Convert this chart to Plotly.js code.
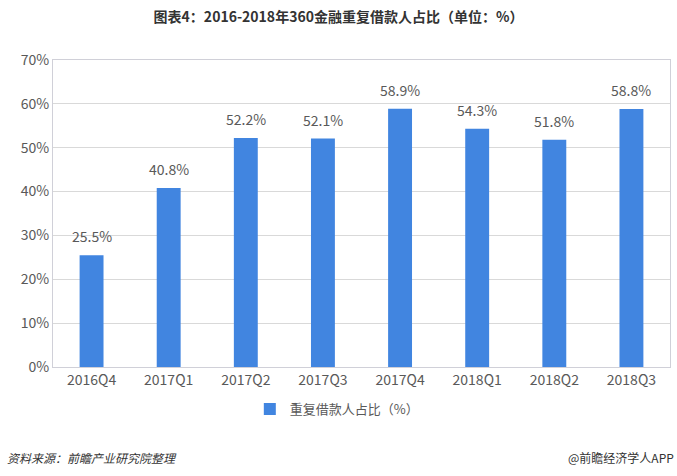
<!DOCTYPE html>
<html>
<head>
<meta charset="utf-8">
<script src="https://cdn.plot.ly/plotly-3.0.1.min.js"></script>
<style>
  body { margin: 0; background: #fff; }
  #chart { width: 677px; height: 476px; }
</style>
</head>
<body>
<div id="chart"></div>
<script>
// 数据
const quarters = ['2016Q4', '2017Q1', '2017Q2', '2017Q3', '2017Q4', '2018Q1', '2018Q2', '2018Q3'];
const repeatRate = [25.5, 40.8, 52.2, 52.1, 58.9, 54.3, 51.8, 58.8];
const seriesName = '重复借款人占比（%）';

const font = '"Microsoft YaHei", "Noto Sans CJK SC", sans-serif';

const trace = {
    x: quarters,
    y: repeatRate,
    type: 'bar',
    name: seriesName,
    width: 0.31,
    marker: { color: '#4185E0' },
    hoverinfo: 'none'
};

// 数值标签
const labels = quarters.map((q, i) => ({
    x: q, y: repeatRate[i], xref: 'x', yref: 'y',
    text: repeatRate[i].toFixed(1) + '%',
    showarrow: false, yanchor: 'bottom', yshift: 7,
    font: { size: 14, color: '#595959' }
}));

const layout = {
    width: 677,
    height: 476,
    margin: { l: 53, r: 7, t: 60, b: 109 },
    paper_bgcolor: '#fff',
    plot_bgcolor: '#fff',
    font: { family: font, color: '#595959', size: 14 },
    title: {
        text: '<b>图表4：2016-2018年360金融重复借款人占比（单位：%）</b>',
        x: 0.5, xanchor: 'center',
        y: 0.965, yanchor: 'middle',
        font: { size: 14, color: '#333', family: font }
    },
    xaxis: {
        showline: true, mirror: true, linecolor: '#D0D0D8', linewidth: 1,
        ticks: '', tickfont: { size: 14, color: '#595959' },
        showgrid: false
    },
    yaxis: {
        range: [0, 70], dtick: 10, ticksuffix: '%',
        showline: true, mirror: true, linecolor: '#D0D0D8', linewidth: 1,
        gridcolor: '#D9D9D9', zeroline: false,
        tickfont: { size: 14, color: '#595959' }
    },
    showlegend: true,
    legend: {
        orientation: 'h', x: 0.46, xanchor: 'center', y: -0.137, yanchor: 'middle',
        font: { size: 13, color: '#595959' }
    },
    annotations: labels.concat([
        {
            text: '<i>资料来源：前瞻产业研究院整理</i>',
            xref: 'paper', yref: 'paper', x: -0.078, y: -0.295,
            xanchor: 'left', yanchor: 'middle', showarrow: false,
            font: { size: 12, color: '#333' }
        },
        {
            text: '@前瞻经济学人APP',
            xref: 'paper', yref: 'paper', x: 1.01, y: -0.295,
            xanchor: 'right', yanchor: 'middle', showarrow: false,
            font: { size: 12, color: '#333' }
        }
    ])
};

Plotly.newPlot('chart', [trace], layout, { displayModeBar: false, staticPlot: true });
</script>
</body>
</html>
